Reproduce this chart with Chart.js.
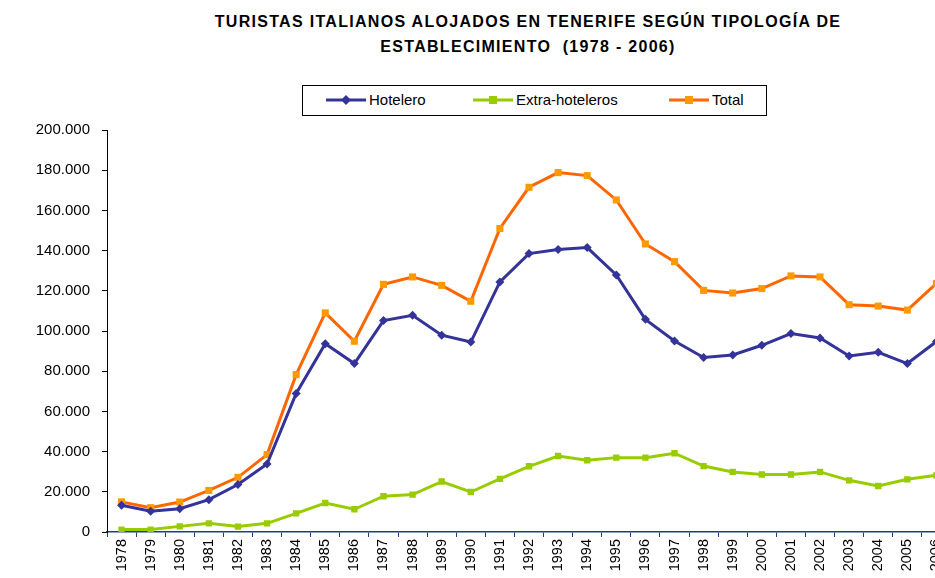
<!DOCTYPE html>
<html>
<head>
<meta charset="utf-8">
<script src="https://cdn.jsdelivr.net/npm/chart.js@4.4.0/dist/chart.umd.min.js"></script>
<style>
    html, body { margin: 0; padding: 0; background: #fff; overflow: hidden; width: 935px; height: 578px; }
    #title {
        position: absolute; left: 0; top: 9px; width: 1056px; text-align: center;
        font: bold 16px "Liberation Sans", Arial, sans-serif; letter-spacing: 1.3px;
        line-height: 25px; color: #000;
    }
    #legend {
        position: absolute; left: 302px; top: 85px; width: 465px; height: 31px;
        border: 1px solid #000; box-sizing: border-box;
        font: 15px "Liberation Sans", Arial, sans-serif; color: #000;
    }
    .item { position: absolute; top: 5px; height: 18px; line-height: 18px; white-space: nowrap; }
    .item svg { vertical-align: middle; margin-right: 3px; position: relative; top: -1px; }
    #wrap { position: absolute; left: 0; top: 0; width: 956px; height: 578px; }
</style>
</head>
<body>
<div id="title">TURISTAS ITALIANOS ALOJADOS EN TENERIFE SEGÚN TIPOLOGÍA DE<br>ESTABLECIMIENTO&nbsp; (1978 - 2006)</div>
<div id="legend"></div>
<div id="wrap"><canvas id="chart"></canvas></div>
<script>
// --- 데이터 ---
const years = ['1978','1979','1980','1981','1982','1983','1984','1985','1986','1987',
    '1988','1989','1990','1991','1992','1993','1994','1995','1996','1997',
    '1998','1999','2000','2001','2002','2003','2004','2005','2006'];

const hotelero = [13300, 10300, 11600, 16100, 23600, 33800, 68900, 93700, 83800, 105200,
    107800, 97900, 94500, 124400, 138500, 140600, 141500, 127900, 105800, 95000,
    86800, 88100, 92900, 98700, 96500, 87600, 89400, 83800, 94800];

const extraHoteleros = [1200, 1200, 2800, 4300, 2700, 4300, 9300, 14400, 11300, 17800,
    18600, 25100, 19900, 26400, 32700, 37800, 35700, 37000, 37000, 39200,
    32800, 29900, 28600, 28600, 29900, 25700, 22900, 26200, 28200];

const total = [15000, 12100, 14900, 20700, 27200, 38500, 78300, 109000, 94900, 123200,
    126900, 122700, 114800, 151000, 171500, 178800, 177300, 165200, 143300, 134500,
    120200, 118900, 121100, 127400, 126900, 113100, 112400, 110400, 123700];

// --- 스타일 ---
const FONT = '"Liberation Sans", Arial, sans-serif';
const series = [
    { label: 'Hotelero', data: hotelero, line: '#333399', point: '#333399', style: 'rectRot', r: 4.5 },
    { label: 'Extra-hoteleros', data: extraHoteleros, line: '#99CC00', point: '#99CC00', style: 'rect', r: 4.5 },
    { label: 'Total', data: total, line: '#FF6600', point: '#FF9900', style: 'rect', r: 5 }
];

// 범례 (HTML) - 위치는 박스 안쪽 기준
const legendLeft = [23, 170, 366];
const legendEl = document.getElementById('legend');
series.forEach((s, i) => {
    const marker = s.style === 'rectRot'
        ? `<polygon points="20,3 25,8 20,13 15,8" fill="${s.point}"/>`
        : `<rect x="16" y="4" width="8" height="8" fill="${s.point}"/>`;
    const div = document.createElement('div');
    div.className = 'item';
    div.style.left = legendLeft[i] + 'px';
    div.innerHTML = `<svg width="40" height="16"><line x1="0" y1="8" x2="40" y2="8" stroke="${s.line}" stroke-width="3"/>${marker}</svg>${s.label}`;
    legendEl.appendChild(div);
});

function formatThousands(v) {
    return String(v).replace(/\B(?=(\d{3})+(?!\d))/g, '.');
}

const ctx = document.getElementById('chart').getContext('2d');
new Chart(ctx, {
    type: 'line',
    data: {
        labels: years,
        datasets: series.map(s => ({
            label: s.label,
            data: s.data,
            borderColor: s.line,
            backgroundColor: s.point,
            borderWidth: 3,
            pointStyle: s.style,
            pointRadius: s.r,
            pointBorderWidth: 0,
            pointBackgroundColor: s.point,
            tension: 0
        }))
    },
    options: {
        responsive: true,
        maintainAspectRatio: false,
        animation: false,
        layout: { padding: { top: 130, right: 0, left: 0, bottom: 0 } },
        plugins: {
            legend: { display: false },
            title: { display: false },
            tooltip: { enabled: false }
        },
        scales: {
            x: {
                offset: true,
                grid: { display: true, drawOnChartArea: false, offset: true, tickLength: 5, color: '#1F3F7F' },
                border: { color: '#1F3F7F', width: 1.5 },
                ticks: {
                    color: '#000', font: { family: FONT, size: 14.5 },
                    maxRotation: 90, minRotation: 90, autoSkip: false, padding: 2
                },
                afterFit: scale => { scale.height = 46; }
            },
            y: {
                min: 0, max: 200000,
                grid: { display: true, drawOnChartArea: false, tickLength: 5, color: '#000' },
                border: { color: '#000', width: 1 },
                ticks: {
                    stepSize: 20000, color: '#000', padding: 12,
                    font: { family: FONT, size: 15 },
                    callback: v => formatThousands(v)
                },
                afterFit: scale => { scale.width = 107; }
            }
        }
    }
});
</script>
</body>
</html>
